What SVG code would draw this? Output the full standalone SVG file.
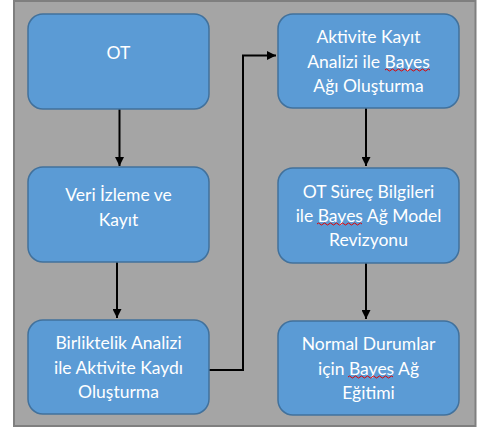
<svg xmlns="http://www.w3.org/2000/svg" width="478" height="434" viewBox="0 0 478 434">
<style>
.node rect{fill:#5B9BD5;stroke:#41719C;stroke-width:1.5}
.node text{fill:#FFFFFF;font-family:Lato,"Open Sans","Liberation Sans",sans-serif;font-size:17.5px;text-anchor:middle}
.conn{stroke:#000;stroke-width:2;fill:none;marker-end:url(#ah)}
.sp{stroke:#E00000;stroke-width:1;fill:none}
</style>
<defs>
<marker id="ah" viewBox="0 0 10 10" refX="10" refY="5" markerWidth="4.5" markerHeight="4.5" markerUnits="strokeWidth" orient="auto">
<path d="M0,0 L10,5 L0,10 z" fill="#000"/>
</marker>
</defs>
<rect x="0" y="0" width="478" height="434" fill="#FFFFFF"/>
<rect x="14" y="1" width="461.5" height="425" fill="#A5A5A5" stroke="#7F7F7F" stroke-width="2"/>
<g id="connectors">
<path class="conn" d="M119.5,109 V166"/>
<path class="conn" d="M117,262 V318"/>
<path class="conn" d="M209,370 H243 V55.5 H276"/>
<path class="conn" d="M366,108 V166"/>
<path class="conn" d="M366,263 V319"/>
</g>
<g id="n1" class="node">
<rect x="28" y="14" width="181" height="95" rx="15"/>
<text x="118.5" y="59">OT</text>
</g>
<g id="n2" class="node">
<rect x="28" y="167" width="181" height="95" rx="15"/>
<text x="118.5" y="201">Veri İzleme ve</text>
<text x="118.5" y="226">Kayıt</text>
</g>
<g id="n3" class="node">
<rect x="28" y="320" width="181" height="94" rx="15"/>
<text x="118.5" y="349">Birliktelik Analizi</text>
<text x="118.5" y="374">ile Aktivite Kaydı</text>
<text x="118.5" y="398">Oluşturma</text>
</g>
<g id="n4" class="node">
<rect x="278" y="14" width="181" height="94" rx="15"/>
<text x="368.5" y="43">Aktivite Kayıt</text>
<text x="368.5" y="68">Analizi ile Bayes</text>
<text x="368.5" y="92">Ağı Oluşturma</text>
<path class="sp" d="M385,70 q1.5,-2 3,0 t3,0 t3,0 t3,0 t3,0 t3,0 t3,0 t3,0 t3,0 t3,0 t3,0 t3,0 t3,0 t3,0 t3,0"/>
</g>
<g id="n5" class="node">
<rect x="278" y="168" width="181" height="95" rx="15"/>
<text x="368.5" y="198">OT Süreç Bilgileri</text>
<text x="368.5" y="222">ile Bayes Ağ Model</text>
<text x="368.5" y="246">Revizyonu</text>
<path class="sp" d="M317,224 q1.5,-2 3,0 t3,0 t3,0 t3,0 t3,0 t3,0 t3,0 t3,0 t3,0 t3,0 t3,0 t3,0 t3,0 t3,0 t3,0"/>
</g>
<g id="n6" class="node">
<rect x="278" y="321" width="181" height="94" rx="15"/>
<text x="368.5" y="350">Normal Durumlar</text>
<text x="368.5" y="375">için Bayes Ağ</text>
<text x="368.5" y="399">Eğitimi</text>
<path class="sp" d="M348,377 q1.5,-2 3,0 t3,0 t3,0 t3,0 t3,0 t3,0 t3,0 t3,0 t3,0 t3,0 t3,0 t3,0 t3,0 t3,0 t3,0"/>
</g>
</svg>
